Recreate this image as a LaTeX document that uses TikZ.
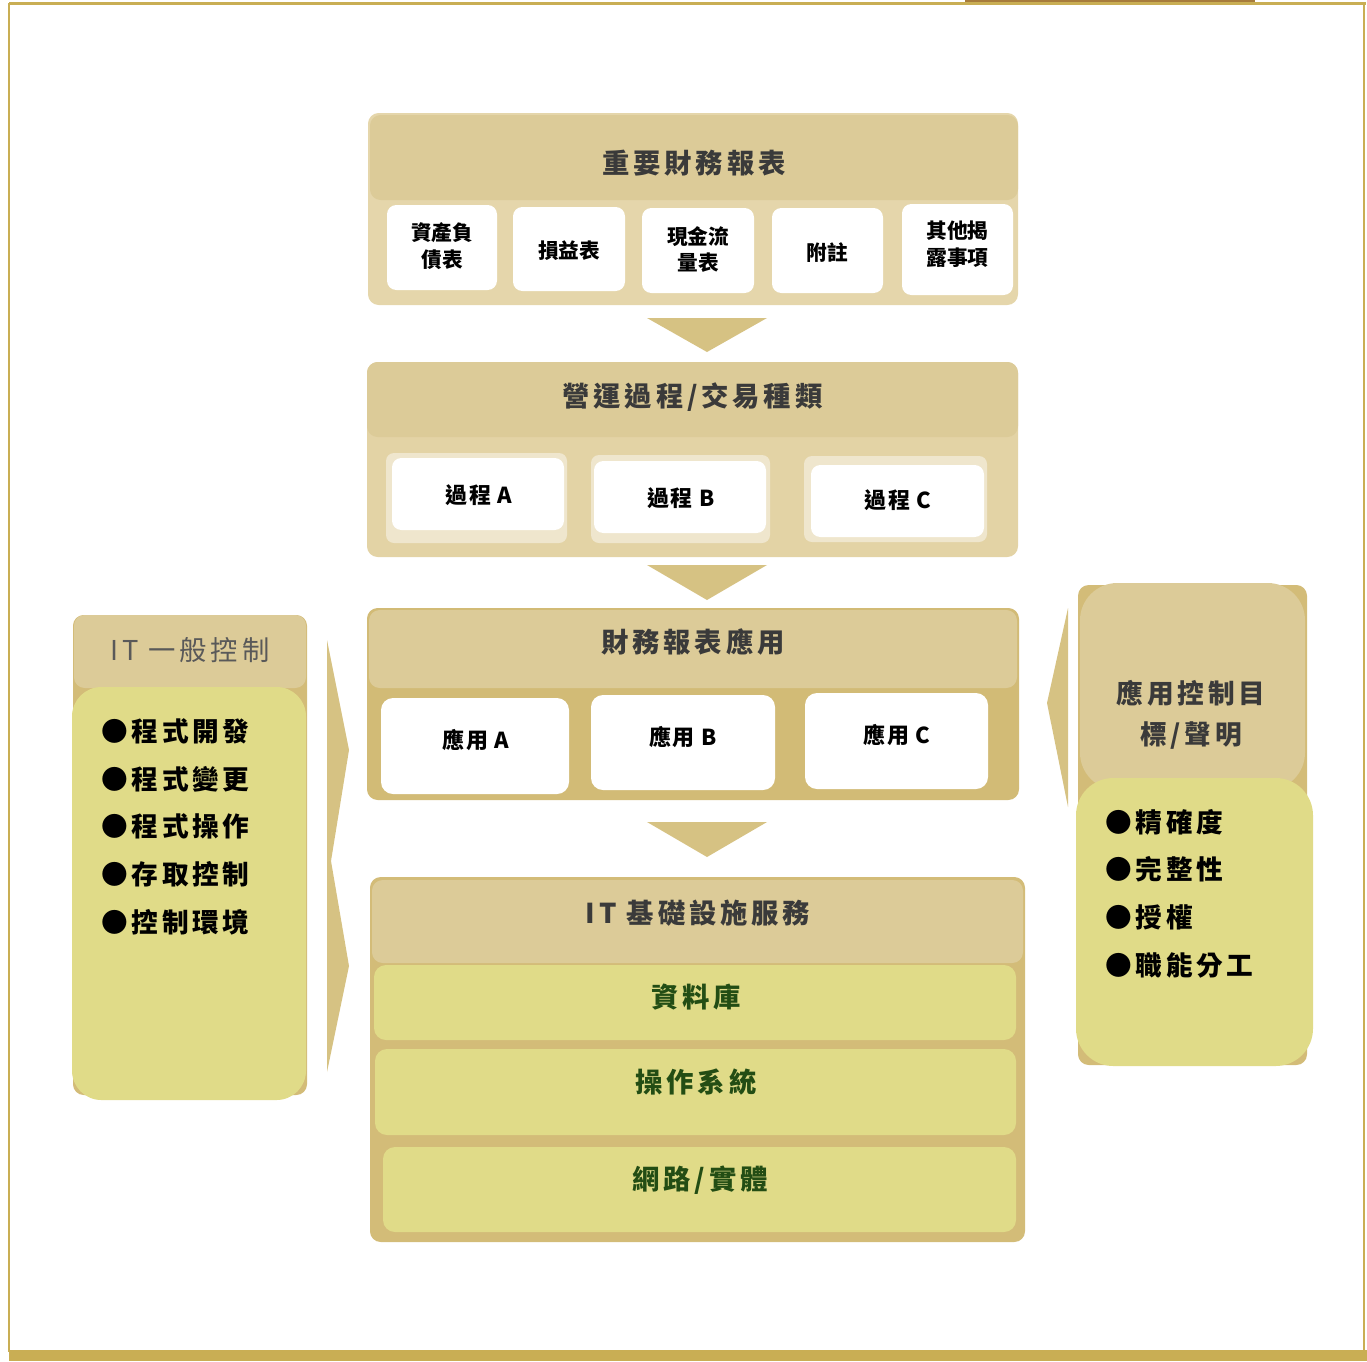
\documentclass[tikz,border=0pt]{standalone}
\usepackage{fontspec}
\setmainfont{Noto Sans CJK TC}
\newfontfamily\cjk{Noto Sans CJK TC}
\newfontfamily\cjks{Noto Sans CJK TC}[LetterSpace=14]
\newfontfamily\cjkm{Noto Sans CJK TC}[LetterSpace=6]
\definecolor{tanH}{HTML}{DCCB98}
\definecolor{contA}{HTML}{E5D6AB}
\definecolor{contB}{HTML}{E3D3A5}
\definecolor{surr}{HTML}{EFE6CD}
\definecolor{contC}{HTML}{D2BB76}
\definecolor{contD}{HTML}{D3BC78}
\definecolor{yel}{HTML}{E0DB88}
\definecolor{grn}{HTML}{234D14}
\definecolor{hdrtxt}{HTML}{3A3A3A}
\definecolor{gold}{HTML}{C9AE54}
\definecolor{dgold}{HTML}{A77C3C}
\definecolor{arr}{HTML}{D6C283}
\tikzset{
  bw/.style={minimum width=#1*0.75pt},
  bh/.style={minimum height=#1*0.75pt},
  panel/.style={rectangle, rounded corners=8pt, inner sep=0pt, draw=none},
  hdr/.style={panel, fill=tanH},
  subbox/.style={rectangle, rounded corners=7pt, inner sep=0pt, fill=white},
  barbox/.style={rectangle, rounded corners=9pt, inner sep=0pt, fill=yel},
  hdrtext/.style={inner sep=0pt, text=hdrtxt, font=\cjks\bfseries\fontsize{20.5}{24}\selectfont},
  subtext/.style={inner sep=0pt, align=center, text=black, font=\cjk\bfseries\fontsize{15.5}{20}\selectfont},
  proctext/.style={inner sep=0pt, text=black, font=\cjkm\bfseries\fontsize{16.5}{20}\selectfont},
  bartext/.style={inner sep=0pt, text=grn, font=\cjks\bfseries\fontsize{20.5}{24}\selectfont},
  itemtext/.style={inner sep=0pt, anchor=west, text=black, font=\cjks\bfseries\fontsize{20}{24}\selectfont},
  flowarrow/.style={fill=arr}
}
\begin{document}
\begin{tikzpicture}[x=0.75pt,y=-0.75pt]
\useasboundingbox (0,0) rectangle (1367,1361);
% frame
\fill[gold] (9,1.5) rectangle (1366,4.5);
\fill[dgold] (965,0) rectangle (1255,2);
\fill[gold] (8,3) rectangle (10,1352);
\fill[gold] (1363,3) rectangle (1365,1352);
\fill[gold] (9,1350) rectangle (1367,1361);

% ---------- Box 1
\node[panel, fill=contA, bw=650, bh=192] (c1) at (693,209) {};
\node[hdr, bw=648, bh=85] (h1) at (694,157.5) {};
\node[hdrtext] (t1) at (694,163) {重要財務報表};
\node[subbox, bw=110, bh=85] (s11) at (442,247.5) {};
\node[subtext] (u11) at (442,246) {資產負\\債表};
\node[subbox, bw=112, bh=84] (s12) at (569,249) {};
\node[subtext] (u12) at (569,251) {損益表};
\node[subbox, bw=112, bh=85] (s13) at (698,250.5) {};
\node[subtext] (u13) at (698,249.5) {現金流\\量表};
\node[subbox, bw=111, bh=85] (s14) at (827.5,250.5) {};
\node[subtext] (u14) at (827.5,253) {附註};
\node[subbox, bw=111, bh=91] (s15) at (957.5,249.5) {};
\node[subtext] (u15) at (957.5,244.5) {其他揭\\露事項};

\fill[flowarrow] (647,318) -- (767,318) -- (707,352) -- cycle;

% ---------- Box 2
\node[panel, fill=contB, bw=651, bh=195] (c2) at (692.5,459.5) {};
\node[hdr, bw=651, bh=75] (h2) at (692.5,399.5) {};
\node[hdrtext] (t2) at (692.5,397) {營運過程/交易種類};
\node[panel, rounded corners=6pt, fill=surr, bw=181, bh=90] (r21) at (476.5,498) {};
\node[panel, rounded corners=6pt, fill=surr, bw=179, bh=88] (r22) at (680.5,499) {};
\node[panel, rounded corners=6pt, fill=surr, bw=183, bh=86] (r23) at (895.5,499) {};
\node[subbox, bw=172, bh=72] (s21) at (478,494) {};
\node[subbox, bw=172, bh=72] (s22) at (680,497) {};
\node[subbox, bw=173, bh=72] (s23) at (897.5,501) {};
\node[proctext] (u21) at (479,495) {過程 A};
\node[proctext] (u22) at (681,498) {過程 B};
\node[proctext] (u23) at (898,500) {過程 C};

\fill[flowarrow] (647,565) -- (767,565) -- (707,600) -- cycle;

% ---------- Box 3
\node[panel, fill=contC, bw=652, bh=192] (c3) at (693,704) {};
\node[hdr, bw=648, bh=78] (h3) at (693,649) {};
\node[hdrtext] (t3) at (693,642) {財務報表應用};
\node[subbox, rounded corners=9pt, bw=188, bh=96] (s31) at (475,746) {};
\node[subbox, rounded corners=9pt, bw=184, bh=95] (s32) at (683,742.5) {};
\node[subbox, rounded corners=9pt, bw=183, bh=96] (s33) at (896.5,741) {};
\node[proctext] (u31) at (476,740) {應用 A};
\node[proctext] (u32) at (683,737) {應用 B};
\node[proctext] (u33) at (897,735) {應用 C};

\fill[flowarrow] (647,822) -- (767,822) -- (707,857) -- cycle;

% ---------- Box 4
\node[panel, fill=contD, bw=655, bh=365] (c4) at (697.5,1059.5) {};
\node[hdr, bw=651, bh=83] (h4) at (697.5,921.5) {};
\node[hdrtext] (t4) at (698,913) {IT 基礎設施服務};
\node[barbox, bw=642, bh=75] (b1) at (695,1002.5) {};
\node[bartext] (v1) at (696,997) {資料庫};
\node[barbox, bw=641, bh=86] (b2) at (695.5,1092) {};
\node[bartext] (v2) at (696,1082) {操作系統};
\node[barbox, bw=633, bh=85] (b3) at (699.5,1189.5) {};
\node[bartext] (v3) at (700,1180) {網路/實體};

% ---------- Left panel
\node[panel, fill=contD, bw=234, bh=480] (lc) at (190,855) {};
\node[hdr, bw=232, bh=73] (lh) at (190,651.5) {};
\node[inner sep=0pt, text=black!65, font=\cjks\fontsize{20.5}{24}\selectfont] (lt) at (190,650) {IT 一般控制};
\node[barbox, rounded corners=22pt, bw=234, bh=413] (ly) at (189,893.5) {};
\node[itemtext] (l1) at (101,731) {●程式開發};
\node[itemtext] (l2) at (101,779) {●程式變更};
\node[itemtext] (l3) at (101,826) {●程式操作};
\node[itemtext] (l4) at (101,874) {●存取控制};
\node[itemtext] (l5) at (101,922) {●控制環境};
\fill[arr] (327,640) -- (349,750) -- (331,861) -- (349,966) -- (327,1072) -- cycle;

% ---------- Right panel
\fill[arr] (1068,608) -- (1047,703) -- (1068,807) -- cycle;
\node[panel, fill=contD, bw=229, bh=480] (rc) at (1192.5,825) {};
\node[hdr, rounded corners=28pt, bw=225, bh=207] (rh) at (1192.5,686.5) {};
\node[inner sep=0pt, align=center, text=hdrtxt, font=\cjks\bfseries\fontsize{20}{31}\selectfont] (rt) at (1191,714.5) {應用控制目\\標/聲明};
\node[barbox, rounded corners=28pt, bw=237, bh=288] (ry) at (1194.5,922) {};
\node[itemtext] (r1) at (1105,822) {●精確度};
\node[itemtext] (r2) at (1105,869) {●完整性};
\node[itemtext] (r3) at (1105,917) {●授權};
\node[itemtext] (r4) at (1105,965) {●職能分工};
\end{tikzpicture}
\end{document}
